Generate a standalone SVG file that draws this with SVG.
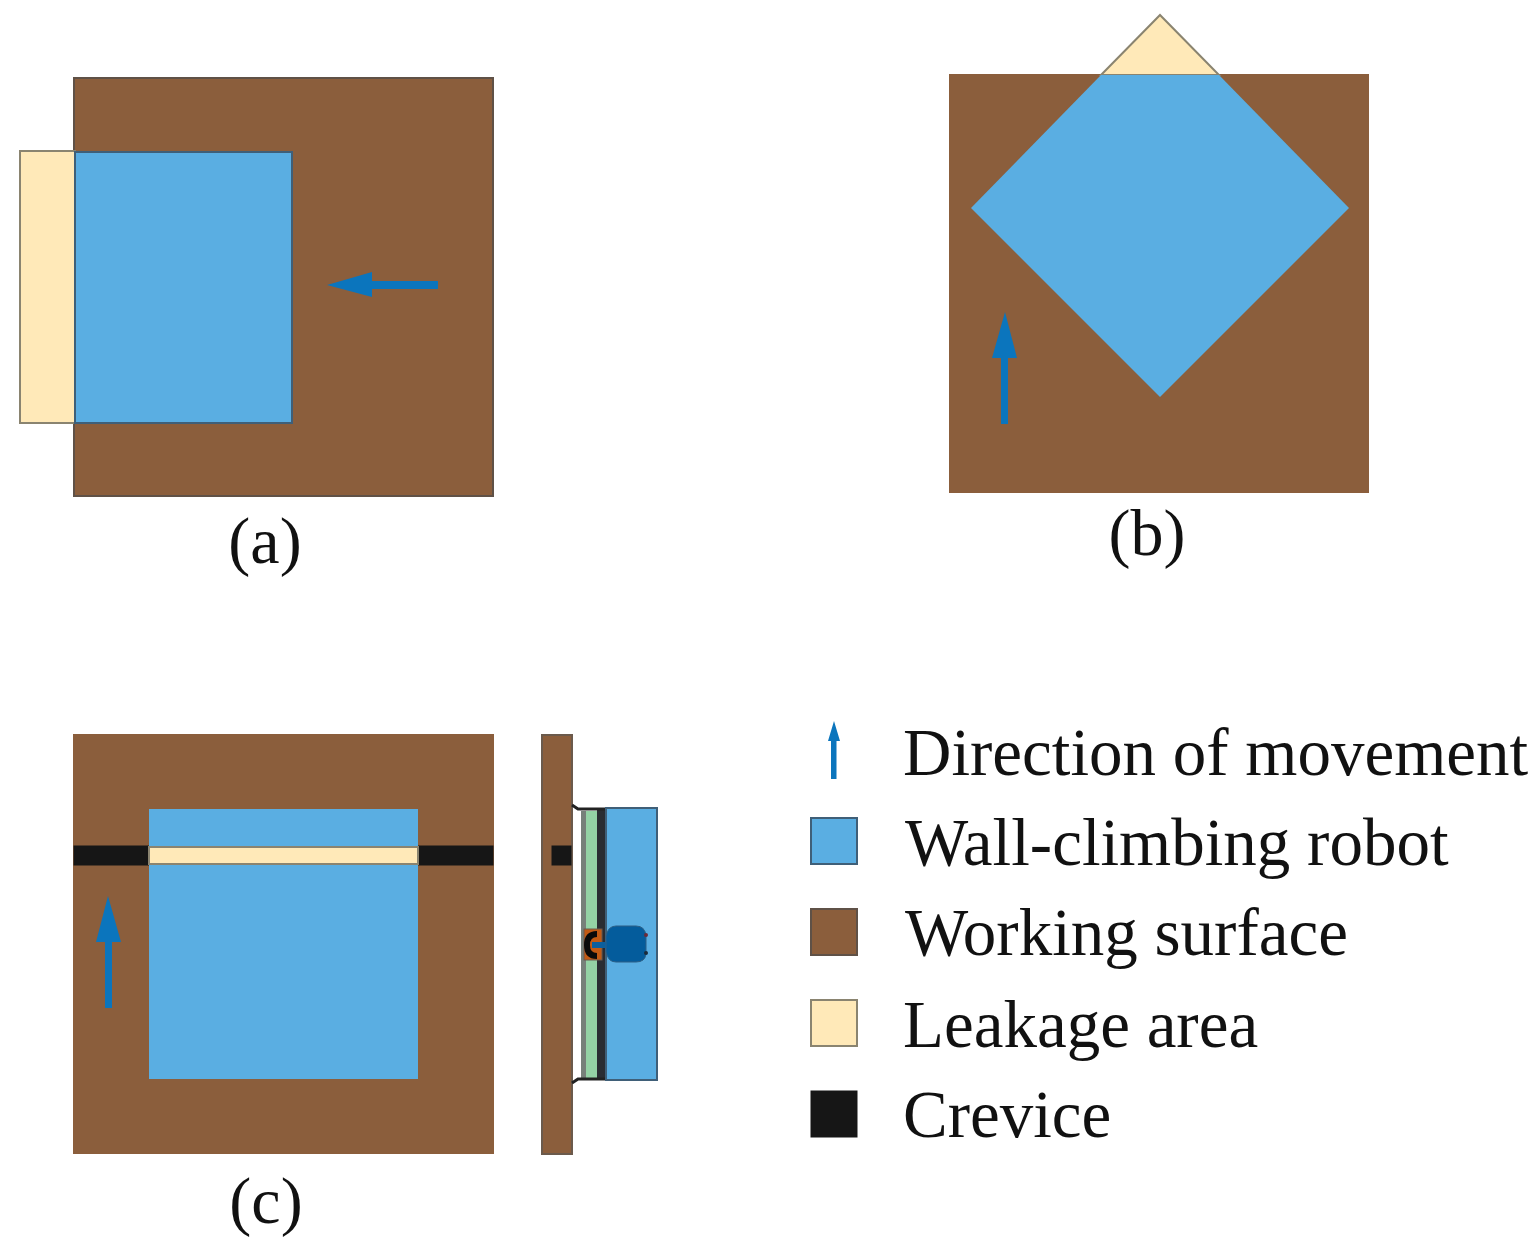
<svg xmlns="http://www.w3.org/2000/svg" width="1539" height="1244" viewBox="0 0 1539 1244">
<style>
.s{fill:#8b5e3c;stroke:#5f5147;stroke-width:2}
.r{fill:#5aaee2;stroke:#3f5f78;stroke-width:2}
.l{fill:#ffe9b8;stroke:#8a8470;stroke-width:2}
.c{fill:#161616;stroke:#161616;stroke-width:1}
.a{fill:#0b75bd;stroke:none}
text{font-family:"Liberation Serif","Times New Roman",serif;fill:#111}
.cap{font-size:66px}
.leg{font-size:67px}
</style>
<rect width="1539" height="1244" fill="#fff"/>
<g id="panel-a">
<rect class="s" x="74" y="78" width="419" height="418"/>
<rect class="l" x="20" y="151" width="55" height="272"/>
<rect class="r" x="75" y="152" width="217" height="271"/>
<polygon class="a" points="327,285 372,272 372,281 438,281 438,289 372,289 372,297"/>
<text class="cap" x="265" y="563" text-anchor="middle">(a)</text>
</g>
<g id="panel-b">
<rect x="949" y="74" width="420" height="419" fill="#8b5e3c"/>
<polygon class="l" points="1101,75 1160,15 1219,75"/>
<polygon points="1101,75 1219,75 1349,208 1160,397 971,208" fill="#5aaee2"/>
<polygon class="a" points="1005,312 1017,358 1008,358 1008,424 1001,424 1001,358 992,358"/>
<text class="cap" x="1147" y="555" text-anchor="middle">(b)</text>
</g>
<g id="panel-c">
<rect x="73" y="734" width="421" height="420" fill="#8b5e3c"/>
<rect class="c" x="74" y="846" width="419" height="19"/>
<rect x="149" y="809" width="269" height="270" fill="#5aaee2"/>
<rect class="l" x="149" y="847" width="269" height="17"/>
<polygon class="a" points="108,896 121,942 112,942 112,1008 105,1008 105,942 96,942"/>
<text class="cap" x="266" y="1223" text-anchor="middle">(c)</text>
</g>
<g id="side-view">
<rect class="s" x="542" y="735" width="30" height="419" style="stroke:#6b5a4c"/>
<rect class="c" x="552" y="846" width="19" height="19"/>
<rect x="581" y="811" width="17" height="267" fill="#94d2a5" stroke="#77807a" stroke-width="0"/>
<rect x="581" y="811" width="5" height="267" fill="#77807a"/>
<rect x="597" y="808" width="9" height="271" fill="#2a2d33"/>
<path d="M572,805 L578,809 L606,809 M572,1083 L578,1079 L606,1079" fill="none" stroke="#222" stroke-width="3"/>
<rect class="r" x="606" y="808" width="51" height="272"/>
<rect x="584" y="929" width="18" height="31" fill="#c25a14" stroke="#6b5a50" stroke-width="1"/>
<path d="M597,934 Q587,934 587,945 Q587,956 597,956" fill="none" stroke="#0a0a0a" stroke-width="6"/>
<rect x="592" y="942" width="16" height="6" fill="#0b5f9e"/>
<path d="M616,926 L636,926 Q645,926 646,936 L646,954 Q645,962 636,962 L616,962 Q608,962 606,952 L606,936 Q608,926 616,926Z" fill="#045c9c" stroke="#2c5f86" stroke-width="1"/>
<circle cx="646" cy="935" r="2" fill="#6a2a3a"/>
<circle cx="646" cy="953" r="2" fill="#1a2a3a"/>
</g>
<g id="legend">
<polygon class="a" points="834,721 840,741 836.500,741 836.500,779 831,779 831,741 828,741"/>
<text class="leg" x="903" y="775">Direction of movement</text>
<rect class="r" x="811" y="818" width="46" height="46"/>
<text class="leg" x="905" y="865">Wall-climbing robot</text>
<rect class="s" x="811" y="909" width="46" height="46"/>
<text class="leg" x="905" y="955">Working surface</text>
<rect class="l" x="811" y="1000" width="46" height="46"/>
<text class="leg" x="903" y="1047">Leakage area</text>
<rect class="c" x="811" y="1091" width="46" height="46"/>
<text class="leg" x="903" y="1137">Crevice</text>
</g>
</svg>
